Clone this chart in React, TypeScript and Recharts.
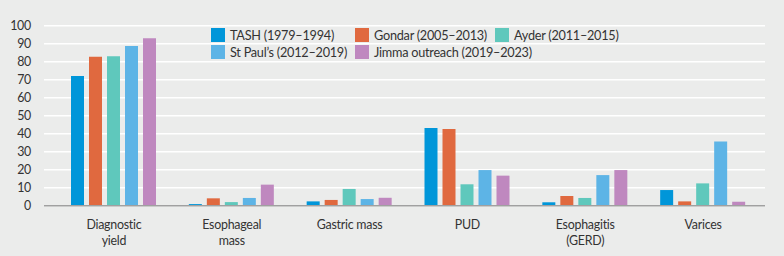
import React from "react";
import { BarChart, Bar, XAxis, YAxis, CartesianGrid } from "recharts";

const categories = ["Diagnostic\nyield", "Esophageal\nmass", "Gastric mass", "PUD", "Esophagitis\n(GERD)", "Varices"];
const tash = [72.1, 0.9, 2.4, 43.2, 1.9, 8.7];
const gondar = [82.8, 4.1, 3.2, 42.6, 5.4, 2.4];
const ayder = [83, 2.0, 9.3, 11.9, 4.3, 12.4];
const stPaul = [88.7, 4.3, 3.7, 19.8, 17, 35.6];
const jimma = [93, 11.7, 4.4, 16.7, 19.8, 2.2];
const yTicks = [0, 10, 20, 30, 40, 50, 60, 70, 80, 90, 100];

const seriesNames = ["TASH (1979–1994)", "Gondar (2005–2013)", "Ayder (2011–2015)", "St Paul’s (2012–2019)", "Jimma outreach (2019–2023)"];
const seriesKeys = ["tash", "gondar", "ayder", "stPaul", "jimma"];
const seriesColors = ["#0096d9", "#e0693f", "#5fc8bc", "#5db4e6", "#bf88bf"];

const data = categories.map((c, i) => ({
  cat: c,
  tash: tash[i],
  gondar: gondar[i],
  ayder: ayder[i],
  stPaul: stPaul[i],
  jimma: jimma[i],
}));

const FONT = "Lato, 'Open Sans', sans-serif";
const FS = 12.4;
const LS = -0.25;

const XTick = (props: any) => {
  const { x, y, payload } = props;
  const lines = String(payload.value).split("\n");
  return (
    <text x={x} y={y} textAnchor="middle" fill="#333" fontSize={FS} fontFamily={FONT} style={{ letterSpacing: LS }}>
      {lines.map((l, i) => (
        <tspan key={i} x={x} dy={15.5}>
          {l}
        </tspan>
      ))}
    </text>
  );
};

const YTick = (props: any) => {
  const { x, y, payload } = props;
  return (
    <text x={x} y={y} dy={4.5} textAnchor="end" fill="#333" fontSize={FS} fontFamily={FONT} style={{ letterSpacing: LS }}>
      {payload.value}
    </text>
  );
};

const legendPos = [
  { left: 211, top: 28 },
  { left: 355, top: 28 },
  { left: 495, top: 28 },
  { left: 211, top: 45 },
  { left: 355, top: 45 },
];

const LegendOverlay = () => (
  <>
    {seriesNames.map((n, i) => (
      <div
        key={n}
        style={{
          position: "absolute",
          left: legendPos[i].left,
          top: legendPos[i].top,
          display: "flex",
          alignItems: "center",
          height: 14,
          fontFamily: FONT,
          fontSize: FS + 0.3,
          letterSpacing: LS,
          color: "#333",
          whiteSpace: "nowrap",
        }}
      >
        <span style={{ display: "inline-block", width: 14, height: 14, background: seriesColors[i], marginRight: 5 }} />
        <span>{n}</span>
      </div>
    ))}
  </>
);

export default function App() {
  return (
    <div style={{ position: "absolute", left: 0, top: 0, width: 784, height: 256, background: "#ebeceb" }}>
      <BarChart
        width={784}
        height={256}
        data={data}
        margin={{ top: 25.7, right: 19, bottom: 0, left: 0 }}
        barSize={13}
        barGap={5}
      >
        <CartesianGrid horizontal={true} vertical={false} stroke="#ffffff" strokeWidth={1.5} />
        <XAxis
          dataKey="cat"
          tick={<XTick />}
          tickLine={false}
          axisLine={{ stroke: "#a0a0a0", strokeWidth: 1.5 }}
          interval={0}
          height={50.3}
          padding={{ left: 11, right: 3 }}
        />
        <YAxis
          domain={[0, 100]}
          ticks={yTicks}
          interval={0}
          width={44}
          tickLine={false}
          axisLine={false}
          tick={<YTick />}
          tickMargin={7}
        />
        {seriesKeys.map((k, i) => (
          <Bar key={k} dataKey={k} name={seriesNames[i]} fill={seriesColors[i]} isAnimationActive={false} />
        ))}
      </BarChart>
      <LegendOverlay />
    </div>
  );
}
